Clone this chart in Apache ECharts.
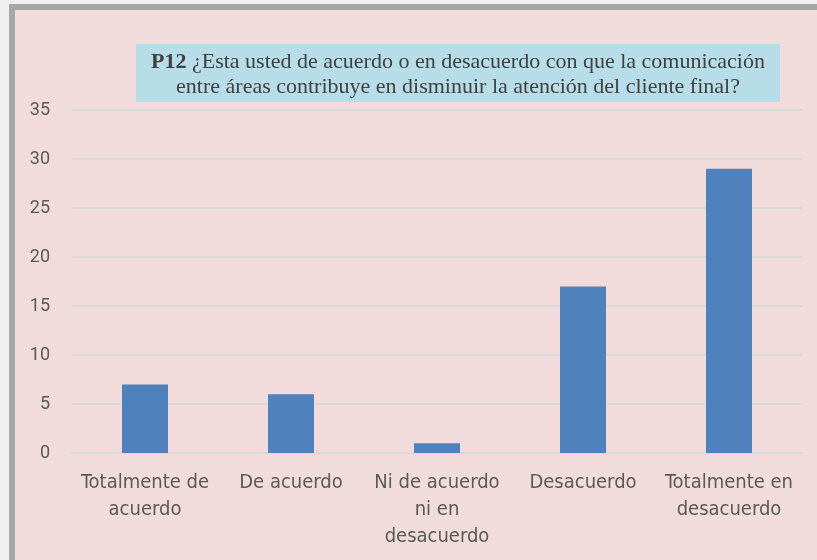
<!DOCTYPE html>
<html>
<head>
<meta charset="utf-8">
<script src="https://cdn.jsdelivr.net/npm/echarts@6/dist/echarts.min.js"></script>
<style>
  html, body { margin: 0; padding: 0; }
  #wrap { position: relative; width: 817px; height: 560px; background: #f0f0f0; overflow: hidden; }
  #chart {
    position: absolute; left: 9px; top: 4px; width: 808px; height: 556px;
    box-sizing: border-box; border-left: 6px solid #a6a6a6; border-top: 6px solid #a6a6a6;
    background: #f2dcdb;
  }
</style>
</head>
<body>
<div id="wrap"><div id="chart"></div></div>
<script>
// respuestas P12
const categories = [
  'Totalmente de\nacuerdo',
  'De acuerdo',
  'Ni de acuerdo\nni en\ndesacuerdo',
  'Desacuerdo',
  'Totalmente en\ndesacuerdo'
]
const values = [7, 6, 1, 17, 29]
const yTicks = { min: 0, max: 35, interval: 5 }

const narrow = '"Liberation Sans Narrow", "DejaVu Sans Condensed", "Roboto", sans-serif'

const chart = echarts.init(document.getElementById('chart'))
chart.setOption({
  backgroundColor: '#f2dcdb',
  animation: false,
  grid: { left: 57, right: 15, top: 100, bottom: 107 },
  graphic: [
    {
      type: 'rect',
      shape: { x: 121, y: 34, width: 644, height: 58 },
      style: { fill: '#b7dee8' }
    },
    {
      type: 'text',
      x: 443,
      y: 65,
      style: {
        text: '{b|P12} ¿Esta usted de acuerdo o en desacuerdo con que la comunicación\nentre áreas contribuye en disminuir la atención del cliente final?',
        align: 'center',
        verticalAlign: 'middle',
        fill: '#404040',
        font: '22px "Liberation Serif"',
        lineHeight: 25,
        rich: {
          b: { fontFamily: 'Liberation Serif', fontSize: 22, fontWeight: 'bold', fill: '#404040' }
        }
      }
    }
  ],
  xAxis: {
    type: 'category',
    data: categories,
    axisLine: { lineStyle: { color: '#d9d9d9', width: 2 } },
    axisTick: { show: false },
    axisLabel: {
      interval: 0,
      margin: 16,
      color: '#595959',
      fontFamily: narrow,
      fontSize: 20,
      lineHeight: 27
    }
  },
  yAxis: {
    type: 'value',
    min: yTicks.min,
    max: yTicks.max,
    interval: yTicks.interval,
    axisLine: { show: false },
    axisTick: { show: false },
    splitLine: { lineStyle: { color: '#d9d9d9', width: 2 } },
    axisLabel: { color: '#595959', fontFamily: 'Roboto', fontSize: 18, margin: 22 }
  },
  series: [{
    type: 'bar',
    data: values,
    barWidth: 46,
    itemStyle: { color: '#4f81bd' }
  }]
})
</script>
</body>
</html>
